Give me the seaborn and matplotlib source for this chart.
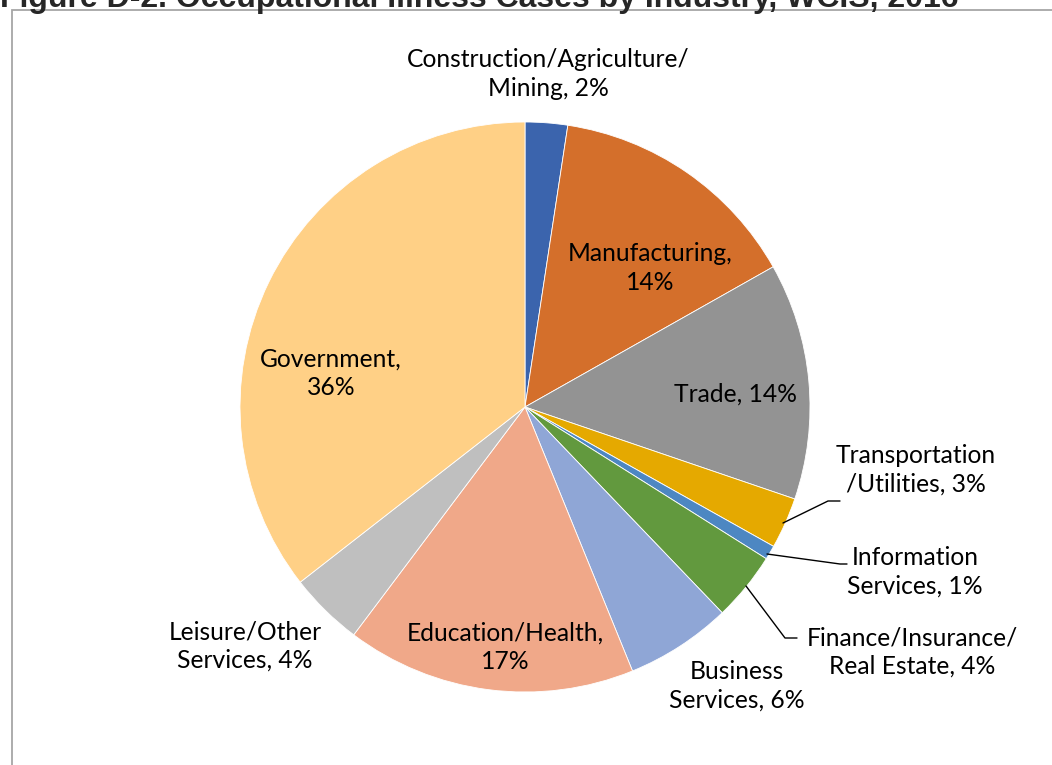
import matplotlib
matplotlib.use("Agg")
import matplotlib.pyplot as plt
import seaborn as sns
from matplotlib.patches import Rectangle

# data (percent of cases)
industries = [
    "Construction/Agriculture/\nMining", "Manufacturing,\n", "Trade", "Transportation\n/Utilities",
    "Information\nServices", "Finance/Insurance/\nReal Estate", "Business\nServices",
    "Education/Health,\n", "Leisure/Other\nServices", "Government,\n",
]
shares = [2.4, 14.4, 13.4, 2.9, 0.8, 3.9, 6.0, 16.4, 4.2, 35.5]
shown_pct = ["2%", "14%", "14%", "3%", "1%", "4%", "6%", "17%", "4%", "36%"]
colors = ["#3B64AD", "#D46F2B", "#939393", "#E5A900", "#4D87C2",
          "#62993E", "#8FA6D6", "#F0A889", "#BFBFBF", "#FFD086"]

# label anchors in pixel space (x, y from top)
label_pos = [(548, 74), (650, 268), (735, 394), (916, 470), (915, 572),
             (912, 652), (737, 686), (505, 647), (245, 646), (331, 373)]
# leader lines for the small right-hand slices (pixel space, y from top)
leaders = {
    3: [(783, 523), (828, 501), (840, 501)],
    4: [(767, 554), (840, 564), (847, 564)],
    5: [(746, 586), (785, 638), (797, 638)],
}

W, H = 1052, 765
sns.set_theme(style="white")
plt.rcParams["font.family"] = ["Lato", "DejaVu Sans"]

fig = plt.figure(figsize=(W / 100, H / 100), dpi=100)
ax = fig.add_axes([0, 0, 1, 1])

ax.pie(shares, colors=colors, startangle=90, counterclock=False,
       center=(525, H - 407), radius=285,
       wedgeprops={"edgecolor": "white", "linewidth": 0.6})
ax.set_xlim(0, W)
ax.set_ylim(0, H)
ax.set_aspect("equal")
ax.axis("off")

# chart border (open to the right / bottom like the cropped original)
ax.add_patch(Rectangle((12, -20), W + 40, H - 10 + 20, fill=False,
                       edgecolor="#A6A6A6", linewidth=1.3, clip_on=False))

for i, (name, pct) in enumerate(zip(industries, shown_pct)):
    if name.endswith("\n"):
        txt = name + pct
    else:
        txt = name + ", " + pct
    x, y = label_pos[i]
    ax.text(x, H - y, txt, ha="center", va="center", fontsize=17.7,
            color="#000000", linespacing=1.3)

for pts in leaders.values():
    ax.plot([p[0] for p in pts], [H - p[1] for p in pts], color="black", lw=1.0)

ax.text(0, H - 7, "Figure D-2. Occupational Illness Cases by Industry, WCIS, 2016",
        ha="left", va="baseline", fontsize=23, fontweight="bold",
        family=["Liberation Sans", "DejaVu Sans"], clip_on=False)

fig.savefig("out.png", dpi=100)
